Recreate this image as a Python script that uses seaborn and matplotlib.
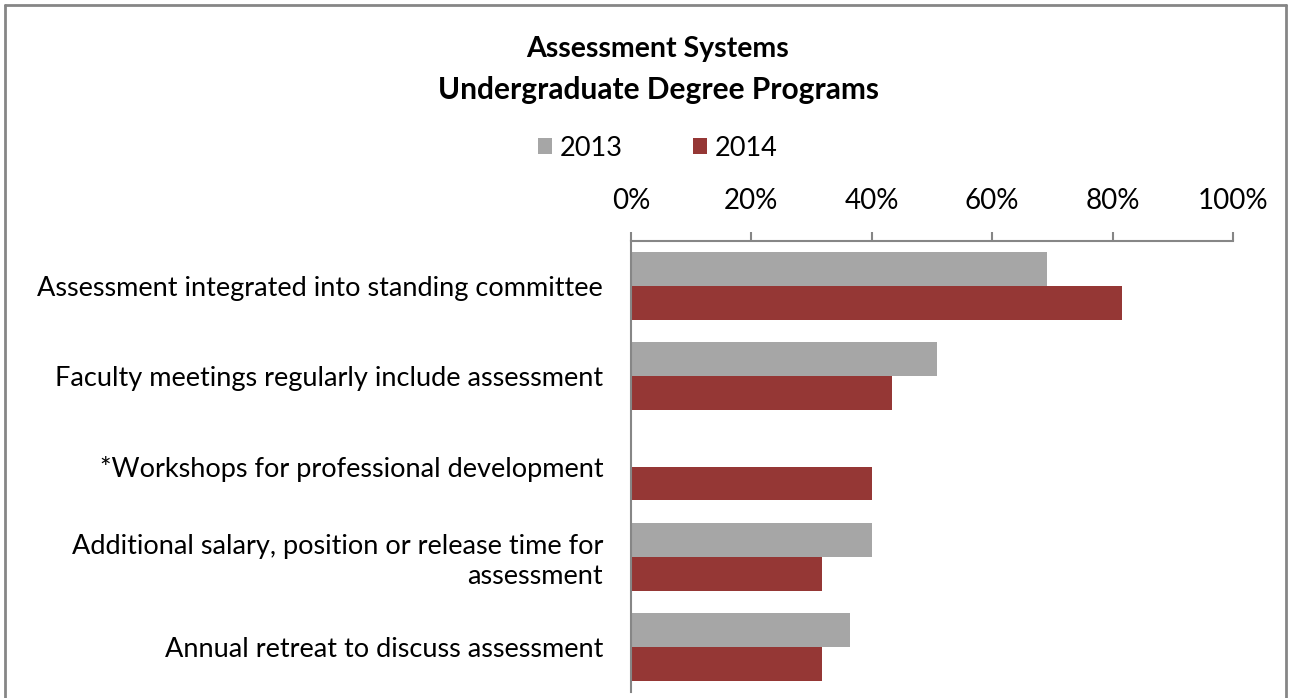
import matplotlib
matplotlib.use("Agg")
import matplotlib.pyplot as plt
import seaborn as sns
import pandas as pd
from matplotlib.lines import Line2D
from matplotlib.patches import Patch

categories = [
    "Assessment integrated into standing committee",
    "Faculty meetings regularly include assessment",
    "*Workshops for professional development",
    "Additional salary, position or release time for\nassessment",
    "Annual retreat to discuss assessment",
]
years = ["2013", "2014"]
values_2013 = [69.1, 50.8, None, 40.0, 36.4]
values_2014 = [81.6, 43.4, 40.0, 31.7, 31.7]
tick_labels = ["0%", "20%", "40%", "60%", "80%", "100%"]

rows = []
for c, a, b in zip(categories, values_2013, values_2014):
    rows.append({"cat": c, "year": "2013", "val": a if a is not None else 0.0})
    rows.append({"cat": c, "year": "2014", "val": b})
df = pd.DataFrame(rows)

sns.set_theme(style="white")
plt.rcParams["font.family"] = ["Lato", "DejaVu Sans"]
plt.rcParams["text.color"] = "black"
plt.rcParams["xtick.color"] = "black"
plt.rcParams["ytick.color"] = "black"

colors = {"2013": "#A6A6A6", "2014": "#953735"}

fig = plt.figure(figsize=(12.89, 6.98), dpi=100)
ax = fig.add_axes([631 / 1289, 1 - 692 / 698, (1233 - 631) / 1289, (692 - 241) / 698])

sns.barplot(data=df, y="cat", x="val", hue="year", order=categories, hue_order=years,
            palette=colors, orient="h", width=0.75, ax=ax, legend=False,
            saturation=1, linewidth=0)

ax.set_xlim(0, 100)
ax.set_xticks([0, 20, 40, 60, 80, 100])
ax.set_xticklabels(tick_labels, fontsize=20)
ax.xaxis.tick_top()
ax.tick_params(axis="x", which="both", direction="out", length=6.5, width=1.5,
               color="#868686", labelcolor="black", pad=13, top=True, bottom=False)
ax.tick_params(axis="y", length=0, pad=20, labelsize=19.5, labelcolor="black")
for lbl in ax.get_yticklabels():
    lbl.set_horizontalalignment("right")
    lbl.set_linespacing(1.25)
ax.set_xlabel("")
ax.set_ylabel("")
for s in ["bottom", "right"]:
    ax.spines[s].set_visible(False)
for s in ["top", "left"]:
    ax.spines[s].set_color("#868686")
    ax.spines[s].set_linewidth(1.5)

fig.text(658 / 1289, 1 - 49 / 698, "Assessment Systems", ha="center", va="center",
         fontsize=20.5, fontweight="bold", color="black")
fig.text(658 / 1289, 1 - 90 / 698, "Undergraduate Degree Programs", ha="center", va="center",
         fontsize=21.5, fontweight="bold", color="black")

handles = [Patch(facecolor=colors[y], edgecolor="none") for y in years]
fig.legend(handles, years, loc="center", bbox_to_anchor=(658 / 1289, 1 - 148 / 698),
           ncol=2, frameon=False, fontsize=19.5, handlelength=0.5, handleheight=0.5,
           handletextpad=0.3, columnspacing=2.6, labelcolor="black")

# outer frame
fc = "#868686"
fig.add_artist(Line2D([5 / 1289, 5 / 1289], [0, 1 - 5 / 698], transform=fig.transFigure, color=fc, lw=2))
fig.add_artist(Line2D([5 / 1289, 1286 / 1289], [1 - 5 / 698, 1 - 5 / 698], transform=fig.transFigure, color=fc, lw=2))
fig.add_artist(Line2D([1286 / 1289, 1286 / 1289], [0, 1 - 5 / 698], transform=fig.transFigure, color=fc, lw=2))

fig.savefig("out.png", dpi=100)
